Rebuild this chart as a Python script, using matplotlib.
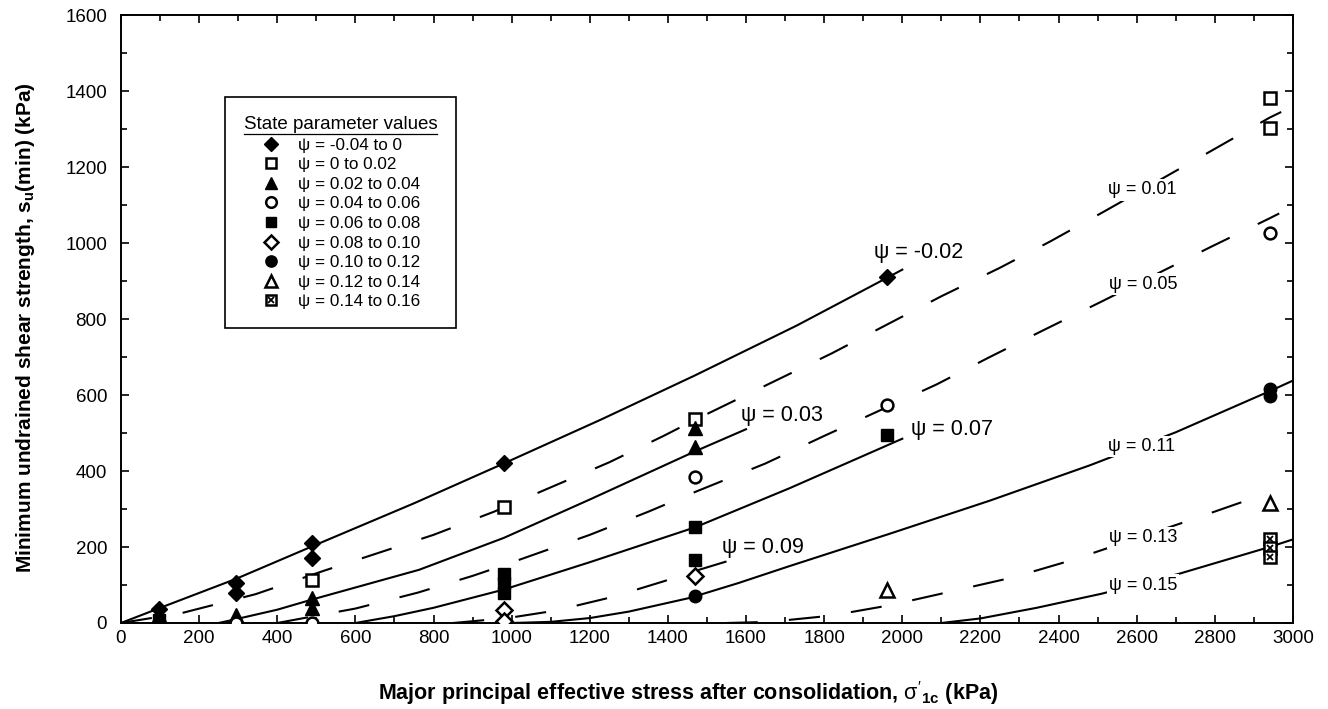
import matplotlib
matplotlib.use("Agg")
import matplotlib.pyplot as plt
from matplotlib.lines import Line2D
from matplotlib.ticker import MultipleLocator

plt.rcParams['font.family'] = ['Liberation Sans', 'DejaVu Sans']
plt.rcParams['mathtext.fontset'] = 'custom'
plt.rcParams['mathtext.rm'] = 'Liberation Sans'
plt.rcParams['mathtext.it'] = 'Liberation Sans'
plt.rcParams['mathtext.bf'] = 'Liberation Sans:bold'

# ---- test data: minimum undrained shear strength vs consolidation stress ----
# filled diamond, psi = -0.04 to 0
dia_f_x = [98, 294, 294, 490, 490, 980, 1960]
dia_f_y = [38, 105, 80, 210, 170, 420, 910]
# open square, psi = 0 to 0.02
sq_o_x = [490, 980, 1470, 2940, 2940]
sq_o_y = [112, 305, 538, 1382, 1302]
# filled triangle, psi = 0.02 to 0.04
tri_f_x = [98, 294, 490, 490, 1470, 1470]
tri_f_y = [20, 20, 65, 40, 514, 462]
# open circle, psi = 0.04 to 0.06
cir_o_x = [294, 490, 1470, 1960, 2940]
cir_o_y = [0, 0, 385, 575, 1027]
# filled square, psi = 0.06 to 0.08
sq_f_x = [98, 980, 980, 980, 1470, 1470, 1960]
sq_f_y = [8, 130, 105, 80, 253, 165, 496]
# open diamond, psi = 0.08 to 0.10
dia_o_x = [980, 980, 1470]
dia_o_y = [33, 5, 125]
# filled circle, psi = 0.10 to 0.12
cir_f_x = [1470, 2940, 2940]
cir_f_y = [70, 617, 598]
# open triangle, psi = 0.12 to 0.14
tri_o_x = [1960, 2940]
tri_o_y = [88, 316]
# crossed square, psi = 0.14 to 0.16
sq_x_x = [2940, 2940, 2940]
sq_x_y = [222, 197, 175]

# ---- constant state parameter curves ----
psi_m002_x = [0, 98, 294, 490, 750, 980, 1230, 1470, 1730, 1960, 2000]
psi_m002_y = [0, 39, 116, 202, 315, 420, 536, 652, 783, 908, 930]

psi_001_x = [0, 155, 345, 515, 800, 955, 1100, 1250, 1390, 1470, 1540, 1820,
             1960, 2100, 2250, 2380, 2520, 2800, 2940, 2970]
psi_001_y = [0, 26, 76, 136, 232, 293, 357, 423, 493, 535, 570, 710,
             785, 860, 935, 1005, 1085, 1248, 1330, 1345]

psi_003_x = [250, 294, 400, 490, 763, 980, 1200, 1470, 1600]
psi_003_y = [0, 10, 35, 62, 140, 224, 325, 452, 510]

psi_005_x = [400, 600, 760, 900, 980, 1200, 1350, 1470, 1650, 1795, 2088,
             2220, 2360, 2510, 2790, 2940, 2965]
psi_005_y = [0, 38, 80, 124, 152, 232, 293, 345, 420, 490, 628,
             698, 770, 846, 990, 1065, 1078]

psi_007_x = [600, 700, 800, 980, 1200, 1470, 1712, 2000]
psi_007_y = [0, 18, 40, 88, 160, 252, 355, 485]

psi_009_x = [850, 990, 1090, 1163, 1240, 1320, 1390, 1470, 1550]
psi_009_y = [0, 13, 29, 45, 64, 88, 110, 137, 162]

psi_011_x = [1000, 1100, 1200, 1300, 1456, 1580, 1712, 1968, 2224, 2480, 2700, 2940, 3000]
psi_011_y = [0, 3, 13, 30, 66, 105, 150, 235, 322, 415, 502, 610, 638]

psi_013_x = [1550, 1660, 1815, 1970, 2125, 2283, 2436, 2735, 2880, 2920]
psi_013_y = [0, 3, 19, 47, 83, 120, 166, 270, 322, 334]

psi_015_x = [2100, 2200, 2344, 2510, 2710, 2940, 3000]
psi_015_y = [0, 12, 40, 77, 130, 200, 220]

fig = plt.figure(figsize=(13.28, 7.09), dpi=100)
ax = fig.add_axes([0.0911, 0.1213, 0.8825, 0.8574])

lw = 1.5
dash = (15, 15)
ax.plot(psi_m002_x, psi_m002_y, color='black', lw=lw, zorder=2)
ax.plot(psi_001_x, psi_001_y, color='black', lw=lw, dashes=dash, zorder=2)
ax.plot(psi_003_x, psi_003_y, color='black', lw=lw, zorder=2)
ax.plot(psi_005_x, psi_005_y, color='black', lw=lw, dashes=dash, zorder=2)
ax.plot(psi_007_x, psi_007_y, color='black', lw=lw, zorder=2)
ax.plot(psi_009_x, psi_009_y, color='black', lw=lw, dashes=dash, zorder=2)
ax.plot(psi_011_x, psi_011_y, color='black', lw=lw, zorder=2)
ax.plot(psi_013_x, psi_013_y, color='black', lw=lw, dashes=dash, zorder=2)
ax.plot(psi_015_x, psi_015_y, color='black', lw=lw, zorder=2)

# curve labels (white box breaks the line behind the text)
lbl_box = dict(facecolor='white', edgecolor='none', pad=1.5)
big = 15.5
small = 13
ax.text(2043, 974, 'ψ = -0.02', fontsize=big, ha='center', va='center', bbox=lbl_box, zorder=3)
ax.text(2613, 1140, 'ψ = 0.01', fontsize=small, ha='center', va='center', bbox=lbl_box, zorder=3)
ax.text(1692, 546, 'ψ = 0.03', fontsize=big, ha='center', va='center', bbox=lbl_box, zorder=3)
ax.text(2616, 892, 'ψ = 0.05', fontsize=small, ha='center', va='center', bbox=lbl_box, zorder=3)
ax.text(2127, 509, 'ψ = 0.07', fontsize=big, ha='center', va='center', bbox=lbl_box, zorder=3)
ax.text(1643, 198, 'ψ = 0.09', fontsize=big, ha='center', va='center', bbox=lbl_box, zorder=3)
ax.text(2613, 464, 'ψ = 0.11', fontsize=small, ha='center', va='center', bbox=lbl_box, zorder=3)
ax.text(2616, 224, 'ψ = 0.13', fontsize=small, ha='center', va='center', bbox=lbl_box, zorder=3)
ax.text(2616, 100, 'ψ = 0.15', fontsize=small, ha='center', va='center', bbox=lbl_box, zorder=3)

# markers
mew = 1.8
h1, = ax.plot(dia_f_x, dia_f_y, 'D', ms=8, mfc='black', mec='black', ls='none', zorder=4)
h2, = ax.plot(sq_o_x, sq_o_y, 's', ms=8.5, mfc='white', mec='black', mew=mew, ls='none', zorder=4)
h3, = ax.plot(tri_f_x, tri_f_y, '^', ms=9.5, mfc='black', mec='black', ls='none', zorder=4)
h4, = ax.plot(cir_o_x, cir_o_y, 'o', ms=8.5, mfc='white', mec='black', mew=mew, ls='none', zorder=4)
h5, = ax.plot(sq_f_x, sq_f_y, 's', ms=8.5, mfc='black', mec='black', ls='none', zorder=4)
h6, = ax.plot(dia_o_x, dia_o_y, 'D', ms=8, mfc='white', mec='black', mew=mew, ls='none', zorder=4)
h7, = ax.plot(cir_f_x, cir_f_y, 'o', ms=9, mfc='black', mec='black', ls='none', zorder=4)
h8, = ax.plot(tri_o_x, tri_o_y, '^', ms=9.5, mfc='white', mec='black', mew=mew, ls='none', zorder=4)
h9a, = ax.plot(sq_x_x, sq_x_y, 's', ms=8.5, mfc='white', mec='black', mew=mew, ls='none', zorder=4)
h9b, = ax.plot(sq_x_x, sq_x_y, 'x', ms=5, mec='black', mew=1.3, ls='none', zorder=5)

handles = [h1, h2, h3, h4, h5, h6, h7, h8, (h9a, h9b)]
labels = ['ψ = -0.04 to 0', 'ψ = 0 to 0.02', 'ψ = 0.02 to 0.04', 'ψ = 0.04 to 0.06',
          'ψ = 0.06 to 0.08', 'ψ = 0.08 to 0.10', 'ψ = 0.10 to 0.12',
          'ψ = 0.12 to 0.14', 'ψ = 0.14 to 0.16']
leg = ax.legend(handles, labels, title='State parameter values', fontsize=12.3,
                title_fontsize=13.5, loc='upper left', bbox_to_anchor=(0.0887, 0.865),
                borderaxespad=0, frameon=True, fancybox=False, edgecolor='black',
                framealpha=1, handlelength=1.2, handletextpad=1.0, labelspacing=0.27,
                borderpad=1.1, markerscale=0.9)
leg.get_frame().set_linewidth(1.2)

ax.set_xlim(0, 3000)
ax.set_ylim(0, 1600)
ax.xaxis.set_major_locator(MultipleLocator(200))
ax.xaxis.set_minor_locator(MultipleLocator(100))
ax.yaxis.set_major_locator(MultipleLocator(200))
ax.yaxis.set_minor_locator(MultipleLocator(100))
ax.tick_params(which='both', direction='in', top=True, right=True, labelsize=13.5, width=1.2)
ax.tick_params(which='major', length=6)
ax.tick_params(axis='x', which='major', pad=5)
ax.tick_params(axis='y', which='major', pad=10)
ax.tick_params(which='minor', length=4)
for s in ax.spines.values():
    s.set_linewidth(1.4)

ax.set_xlabel(r"Major principal effective stress after consolidation, $\sigma'_{\mathbf{1c}}$ (kPa)",
              fontsize=15.5, fontweight='bold')
ax.set_ylabel(r"Minimum undrained shear strength, $\mathbf{s_u}$(min) (kPa)",
              fontsize=15, fontweight='bold')
ax.xaxis.set_label_coords(0.484, -0.093)
ax.yaxis.set_label_coords(-0.072, 0.486)

# underline the legend title
fig.canvas.draw()
bb = leg.get_title().get_window_extent()
inv = fig.transFigure.inverted()
(tx0, ty0), (tx1, ty1) = inv.transform([[bb.x0, bb.y0], [bb.x1, bb.y1]])
fig.add_artist(Line2D([tx0, tx1], [ty0 - 0.002, ty0 - 0.002], color='black', lw=0.9,
                      transform=fig.transFigure))

fig.savefig('out.png', dpi=100)
